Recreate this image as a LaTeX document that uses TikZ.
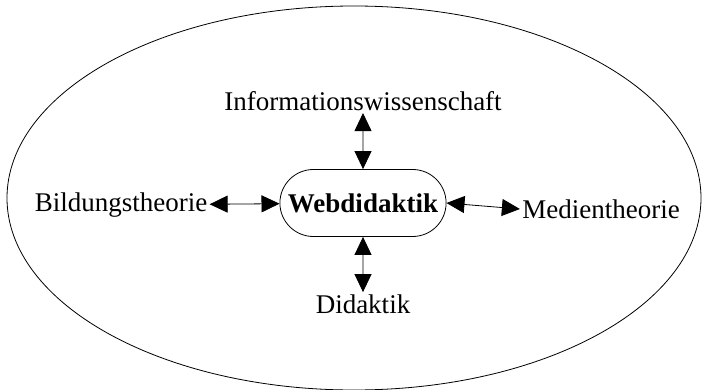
\documentclass[tikz,border=0pt]{standalone}
\usepackage{fontspec}
\setmainfont{Liberation Serif}
\usetikzlibrary{arrows.meta,shapes.misc}

\begin{document}
\begin{tikzpicture}[x=0.5pt,y=-0.5pt]

\tikzset{field/.style = {font=\fontsize{13.5}{16}\selectfont, inner sep=1pt}}
\tikzset{core/.style = {shape=rounded rectangle,draw,font=\fontsize{13.5}{16}\selectfont\bfseries,
  minimum width=82pt,minimum height=33.5pt}}
\tikzset{edge/.style = {{Triangle[length=9pt,width=8.5pt]}-{Triangle[length=9pt,width=8.5pt]}, thin}}
\useasboundingbox (0,0) rectangle (702,390);
% frame
\draw[thin] (354,198) ellipse (347 and 192);
% fields
\node[core] (w) at (363,203) {Webdidaktik};
\node[field] (i) at (363,101) {Informationswissenschaft};
\node[field] (b) at (121,205) {Bildungstheorie};
\node[field] (m) at (601,209) {Medientheorie};
\node[field] (d) at (363,304) {Didaktik};

%edges
\draw[edge] (i) to (w);
\draw[edge] (b) to (w);
\draw[edge] (w.east) to (m.west);
\draw[edge] (w) to (d);

\end{tikzpicture}
\end{document}
